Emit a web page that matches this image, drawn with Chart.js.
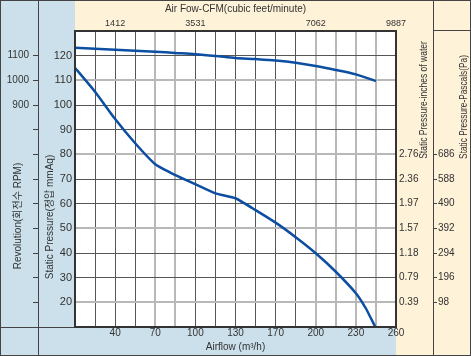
<!DOCTYPE html>
<html>
<head>
<meta charset="utf-8">
<script src="https://cdn.jsdelivr.net/npm/chart.js@4/dist/chart.umd.min.js"></script>
<style>
  html, body { margin: 0; padding: 0; background: #fff; }
  #wrap { width: 471px; height: 356px; }
</style>
</head>
<body>
<div id="wrap"><canvas id="c" width="471" height="356"></canvas></div>
<script>
// ---- data ----
// x positions are grid units along the airflow axis (0..16)
const airflowTickPos = [2, 4, 6, 8, 10, 12, 14, 16];
const airflowTickLabels = ['40', '70', '100', '130', '170', '200', '230', '260'];
const cfmTickPos = [2, 6, 12, 16];
const cfmTickLabels = ['1412', '3531', '7062', '9887'];
const rpmLabelValues = [900, 1000, 1100];
const inchLevels = [20, 30, 40, 50, 60, 70, 80];
const inchLabels = ['0.39', '0.79', '1.18', '1.57', '1.97', '2.36', '2.76'];
const paLevels = [20, 30, 40, 50, 60, 70, 80];
const paLabels = ['98', '196', '294', '392', '490', '588', '686'];

const pressureX = [0, 1, 2, 3, 4, 5, 6, 7, 8, 9, 10, 11, 12, 13, 14, 14.5, 14.95];
const pressureMmAq = [115.1, 105.4, 94.3, 84.5, 76.0, 71.6, 67.9, 64.2, 62.2, 57.4, 52.3, 46.4, 39.9, 32.4, 23.7, 17.5, 10.3];
const rpmX = [0, 1, 2, 3, 4, 5, 6, 7, 8, 9, 10, 11, 12, 13, 14, 15];
const rpmValues = [1132, 1128, 1124, 1120, 1116, 1111, 1106, 1099, 1091, 1086, 1080, 1071, 1058, 1042, 1024, 997];

const lightV = [4, 5, 12, 13, 14, 15];
const lightH = [110, 80, 50, 20];

const FONT = "'Liberation Sans', Arial, 'Noto Sans CJK KR', sans-serif";
const NARROW = "'Liberation Sans Narrow', 'Arial Narrow', 'Liberation Sans', sans-serif";
const TXT = '#333';
const BLUE_BG = '#cbe0ea';
const CREAM_BG = '#fef2d8';
const DARK_GRID = '#555';
const LIGHT_GRID = '#b8b8b8';
const LINE = '#0c4ea2';

const panels = {
  id: 'panels',
  beforeDraw(chart) {
    const ctx = chart.ctx, a = chart.chartArea;
    const W = chart.width, H = chart.height;
    ctx.save();
    ctx.fillStyle = BLUE_BG;
    ctx.fillRect(0, 0, a.left, H);
    ctx.fillRect(0, a.bottom, a.right, H - a.bottom);
    ctx.fillStyle = CREAM_BG;
    ctx.fillRect(a.left, 0, W - a.left, a.top);
    ctx.fillRect(a.right, 0, W - a.right, H);
    ctx.fillStyle = '#fff';
    ctx.fillRect(a.left, a.top, a.right - a.left, a.bottom - a.top);
    ctx.restore();
  },
  afterDraw(chart) {
    const ctx = chart.ctx, a = chart.chartArea;
    const W = chart.width, H = chart.height;
    const sepL = chart.scales.yRpm.right;
    const sepR = chart.scales.yPa.left;
    ctx.save();
    ctx.strokeStyle = '#444';
    ctx.lineWidth = 1;
    ctx.beginPath();
    ctx.moveTo(Math.round(sepL) + 0.5, 0); ctx.lineTo(Math.round(sepL) + 0.5, H);
    ctx.moveTo(Math.round(sepR) + 0.5, 0); ctx.lineTo(Math.round(sepR) + 0.5, H);
    ctx.moveTo(0, a.bottom + 0.5); ctx.lineTo(a.left, a.bottom + 0.5);
    ctx.moveTo(sepR, a.top - 0.5); ctx.lineTo(W, a.top - 0.5);
    ctx.stroke();
    ctx.strokeRect(0.5, 0.5, W - 1, H - 1);
    ctx.strokeStyle = '#333';
    ctx.lineWidth = 2;
    ctx.strokeRect(a.left, a.top, a.right - a.left, a.bottom - a.top);
    // rotated axis titles
    const vt = (text, x, y, font, sx) => {
      ctx.save();
      ctx.translate(x, y);
      ctx.rotate(-Math.PI / 2);
      ctx.scale(sx, 1);
      ctx.font = font;
      ctx.fillStyle = TXT;
      ctx.textAlign = 'center';
      ctx.textBaseline = 'middle';
      ctx.fillText(text, 0, 0);
      ctx.restore();
    };
    vt('Revolution(회전수 RPM)', 18, 216, '10px ' + FONT, 1);
    vt('Static Pressure(정압 mmAq)', 50, 217, '10px ' + FONT, 1);
    vt('Static Pressure-inches of water', 424, 100, '10px ' + FONT, 0.85);
    vt('Static Pressure-Pascals(Pa)', 464, 107, '10px ' + FONT, 0.83);
    ctx.restore();
  }
};

const transparent = 'rgba(0,0,0,0)';

new Chart(document.getElementById('c'), {
  type: 'line',
  data: {
    datasets: [
      {
        label: 'Static Pressure',
        data: pressureX.map((x, i) => ({ x, y: pressureMmAq[i] })),
        xAxisID: 'x', yAxisID: 'yP',
        borderColor: LINE, borderWidth: 2.5, pointRadius: 0, tension: 0.15, fill: false
      },
      {
        label: 'Revolution',
        data: rpmX.map((x, i) => ({ x, y: rpmValues[i] })),
        xAxisID: 'x', yAxisID: 'yRpm',
        borderColor: LINE, borderWidth: 2.5, pointRadius: 0, tension: 0.3, fill: false
      }
    ]
  },
  options: {
    responsive: false,
    animation: false,
    layout: { padding: 0, autoPadding: false },
    plugins: { legend: { display: false }, tooltip: { enabled: false } },
    scales: {
      x: {
        type: 'linear', position: 'bottom', min: 0, max: 16,
        ticks: {
          stepSize: 1, autoSkip: false, maxRotation: 0, padding: 0,
          color: TXT, font: { family: FONT, size: 10 },
          callback: v => { const i = airflowTickPos.indexOf(v); return i >= 0 ? airflowTickLabels[i] : ''; }
        },
        grid: {
          drawTicks: false,
          color: c => (c.tick.value <= 0 || c.tick.value >= 16) ? transparent : (lightV.includes(c.tick.value) ? LIGHT_GRID : DARK_GRID),
          lineWidth: c => lightV.includes(c.tick.value) ? 2 : 1
        },
        border: { display: false },
        title: { display: true, text: 'Airflow (m³/h)', color: TXT, font: { family: FONT, size: 10 }, padding: { top: 0, bottom: 3 } },
        afterFit: s => { s.height = 29; }
      },
      x2: {
        type: 'linear', position: 'top', min: 0, max: 16,
        ticks: {
          stepSize: 1, autoSkip: false, maxRotation: 0, padding: 2,
          color: TXT, font: { family: NARROW, size: 9 },
          callback: v => { const i = cfmTickPos.indexOf(v); return i >= 0 ? cfmTickLabels[i] : ''; }
        },
        grid: { display: false, drawTicks: false },
        border: { display: false },
        title: { display: true, text: 'Air Fow-CFM(cubic feet/minute)', color: TXT, font: { family: FONT, size: 10 }, padding: { top: 3, bottom: 0 } },
        afterFit: s => { s.height = 31; }
      },
      yRpm: {
        type: 'linear', position: 'left', weight: 2, min: 0, max: 1200,
        ticks: {
          stepSize: 100, autoSkip: false, padding: 4,
          color: TXT, font: { family: FONT, size: 10 },
          callback: v => rpmLabelValues.includes(v) ? String(v) : ''
        },
        grid: {
          drawOnChartArea: false, drawTicks: true, tickLength: 5,
          color: c => (c.tick && c.tick.value > 0 && c.tick.value < 1200) ? '#444' : transparent
        },
        border: { display: false },
        afterFit: s => { s.width = 38; }
      },
      yP: {
        type: 'linear', position: 'left', weight: 1, min: 10, max: 130,
        ticks: {
          stepSize: 10, autoSkip: false, padding: 3,
          color: TXT, font: { family: NARROW, size: 11 },
          callback: v => (v >= 20 && v <= 120) ? String(v) : ''
        },
        grid: {
          drawTicks: false,
          color: c => (c.tick.value <= 10 || c.tick.value >= 130) ? transparent : (lightH.includes(c.tick.value) ? LIGHT_GRID : DARK_GRID),
          lineWidth: c => lightH.includes(c.tick.value) ? 2 : 1
        },
        border: { display: false },
        afterFit: s => { s.width = 37; }
      },
      yIn: {
        type: 'linear', position: 'right', weight: 1, min: 10, max: 130,
        ticks: {
          stepSize: 10, autoSkip: false, padding: 3,
          color: TXT, font: { family: NARROW, size: 10 },
          callback: v => { const i = inchLevels.indexOf(v); return i >= 0 ? inchLabels[i] : ''; }
        },
        grid: { drawOnChartArea: false, drawTicks: false },
        border: { display: false },
        afterFit: s => { s.width = 37; }
      },
      yPa: {
        type: 'linear', position: 'right', weight: 2, min: 10, max: 130,
        ticks: {
          stepSize: 10, autoSkip: false, padding: 1,
          color: TXT, font: { family: NARROW, size: 10 },
          callback: v => { const i = paLevels.indexOf(v); return i >= 0 ? paLabels[i] : ''; }
        },
        grid: {
          drawOnChartArea: false, drawTicks: true, tickLength: 4,
          color: c => (c.tick && paLevels.includes(c.tick.value)) ? '#444' : transparent
        },
        border: { display: false },
        afterFit: s => { s.width = 38; }
      }
    }
  },
  plugins: [panels]
});
</script>
</body>
</html>
